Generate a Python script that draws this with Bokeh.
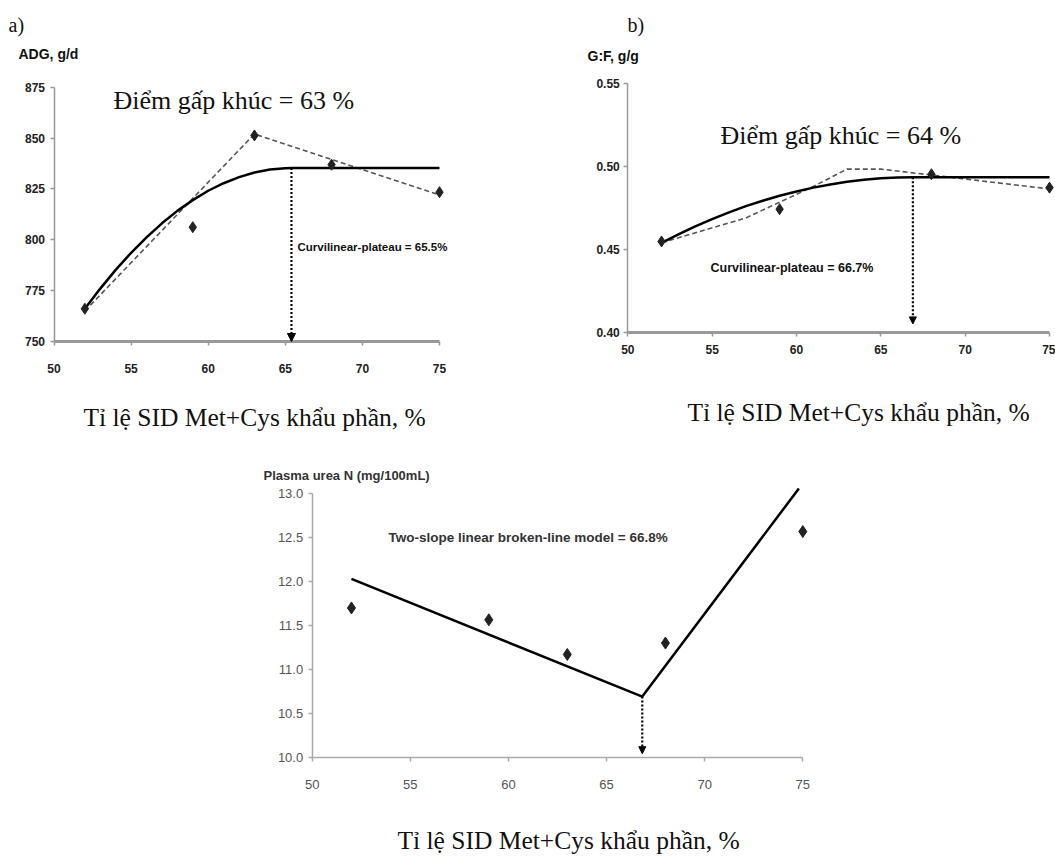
from bokeh.plotting import figure
from bokeh.layouts import column, row
from bokeh.models import (Range1d, Label, Arrow, NormalHead, FixedTicker,
                          NumeralTickFormatter)
from bokeh.embed import file_html
from bokeh.resources import INLINE

# ---------------- data ----------------
x_ticks = [50, 55, 60, 65, 70, 75]
a_y_ticks = [750, 775, 800, 825, 850, 875]
b_y_ticks = [0.40, 0.45, 0.50, 0.55]
c_y_ticks = [10.0, 10.5, 11.0, 11.5, 12.0, 12.5, 13.0]

# panel a : ADG, g/d
a_obs_x = [52, 59, 63, 68, 75]
a_obs_y = [766.1, 806.2, 851.3, 836.9, 823.4]
a_curve_x = [52, 53, 54, 55, 56, 57, 58, 59, 60, 61, 62, 63, 64, 65, 65.4, 75]
a_curve_y = [766.1, 776.0, 785.2, 793.6, 801.2, 808.1, 814.2, 819.5, 824.1,
             827.8, 830.8, 833.1, 834.5, 835.2, 835.3, 835.3]
a_broken_x = [52, 63, 75]
a_broken_y = [765, 852, 822]
a_break = 65.4
a_plateau = 835.3

# panel b : G:F, g/g
b_obs_x = [52, 59, 68, 75]
b_obs_y = [0.4548, 0.4743, 0.4954, 0.4873]
b_curve_x = [52, 53, 54, 55, 56, 57, 58, 59, 60, 61, 62, 63, 64, 65, 66, 66.9, 75]
b_curve_y = [0.4540, 0.4591, 0.4639, 0.4683, 0.4724, 0.4761, 0.4794, 0.4824, 0.4850,
             0.4873, 0.4892, 0.4908, 0.4920, 0.4929, 0.4934, 0.4935, 0.4935]
b_broken_x = [52, 57, 61, 63, 65, 75]
b_broken_y = [0.454, 0.469, 0.488, 0.4985, 0.4985, 0.4865]
b_break = 66.9
b_plateau = 0.4935
b_arrow_end = 0.405

# panel c : plasma urea N
c_obs_x = [52, 59, 63, 68, 75]
c_obs_y = [11.70, 11.565, 11.17, 11.30, 12.57]
c_line_x = [52, 66.82, 74.8]
c_line_y = [12.03, 10.69, 13.06]
c_break = 66.82
c_break_y = 10.69
c_arrow_end = 10.04

SERIF = "Liberation Serif"
SANS = "Liberation Sans"
x_title = "Tỉ lệ SID Met+Cys khẩu phần, %"


def make_fig(box, xpix, ypix, xt, yt):
    """box = page (left, top, right, bottom); xpix/ypix = page pixel of first/last tick."""
    left, top, right, bottom = box
    kx = (xpix[1] - xpix[0]) / (xt[-1] - xt[0])
    ky = (ypix[0] - ypix[1]) / (yt[-1] - yt[0])

    def gx(px):
        return xt[0] + (px - xpix[0]) / kx

    def gy(py):
        return yt[0] + (ypix[0] - py) / ky

    p = figure(width=right - left, height=bottom - top,
               x_range=Range1d(gx(left), gx(right)),
               y_range=Range1d(gy(bottom), gy(top)),
               output_backend="svg", toolbar_location=None, title=None,
               min_border=0, min_border_left=0, min_border_right=0,
               min_border_top=0, min_border_bottom=0)
    p.xgrid.visible = False
    p.ygrid.visible = False
    p.outline_line_color = None
    p.background_fill_color = "white"
    p.border_fill_color = "white"
    return p, gx, gy


def style_axes(p, yt, fmt, font, fstyle, fsize, fcolor, x_w, y_w, acolor,
               x_stand, y_stand):
    xa = p.xaxis[0]
    ya = p.yaxis[0]
    xa.fixed_location = yt[0]
    ya.fixed_location = x_ticks[0]
    xa.ticker = FixedTicker(ticks=x_ticks)
    xa.bounds = (x_ticks[0], x_ticks[-1])
    ya.ticker = FixedTicker(ticks=yt)
    ya.bounds = (yt[0], yt[-1])
    if fmt:
        ya.formatter = NumeralTickFormatter(format=fmt)
    for ax in (xa, ya):
        ax.minor_tick_line_color = None
        ax.major_tick_in = 0
        ax.major_tick_out = 4
        ax.major_tick_line_color = acolor
        ax.major_tick_line_width = 1.5
        ax.axis_line_color = acolor
        ax.major_label_text_font = font
        ax.major_label_text_font_style = fstyle
        ax.major_label_text_font_size = fsize
        ax.major_label_text_color = fcolor
    xa.axis_line_width = x_w
    ya.axis_line_width = y_w
    xa.major_label_standoff = x_stand
    ya.major_label_standoff = y_stand


def add_text(p, x, y, text, font, size, style="normal", align="left", color="#111111"):
    p.add_layout(Label(x=x, y=y, text=text, text_font=font, text_font_size=size,
                       text_font_style=style, text_baseline="middle",
                       text_align=align, text_color=color))


def add_arrow(p, x, y0, y1, size):
    p.add_layout(Arrow(end=NormalHead(size=size, fill_color="black", line_color="black"),
                       x_start=x, y_start=y0, x_end=x, y_end=y1,
                       line_dash="2 2", line_width=2.2, line_color="black"))


# ---------------- panel a ----------------
pa, gxa, gya = make_fig((0, 0, 540, 440), (53.5, 439), (341, 86.7), x_ticks, a_y_ticks)
style_axes(pa, a_y_ticks, None, SANS, "bold", "12px", "#222222", 3, 1.5, "#999999", 18, 5)
pa.line(a_broken_x, a_broken_y, line_color="#555555", line_width=1.6, line_dash="5 3")
pa.line(a_curve_x, a_curve_y, line_color="black", line_width=2.5, line_join="round")
pa.scatter(a_obs_x, a_obs_y, marker="diamond", size=11, color="#222222")
add_arrow(pa, a_break, a_plateau, a_y_ticks[0], 8)
add_text(pa, gxa(8), gya(24), "a)", SERIF, "20px")
add_text(pa, gxa(18), gya(53), "ADG, g/d", SANS, "14px", "bold")
add_text(pa, gxa(113), gya(99.5), "Điểm gấp khúc = 63 %", SERIF, "26px")
add_text(pa, gxa(297), gya(246), "Curvilinear-plateau = 65.5%", SANS, "11.5px", "bold")
add_text(pa, gxa(83), gya(416.5), x_title, SERIF, "25.5px")

# ---------------- panel b ----------------
pb, gxb, gyb = make_fig((540, 0, 1055, 440), (627.3, 1049), (331.7, 83.3), x_ticks, b_y_ticks)
style_axes(pb, b_y_ticks, "0.00", SANS, "bold", "12px", "#222222", 3, 1.5, "#999999", 9, 4)
pb.line(b_broken_x, b_broken_y, line_color="#555555", line_width=1.6, line_dash="5 3")
pb.line(b_curve_x, b_curve_y, line_color="black", line_width=2.5, line_join="round")
pb.scatter(b_obs_x, b_obs_y, marker="diamond", size=11, color="#222222")
add_arrow(pb, b_break, b_plateau, b_arrow_end, 7)
add_text(pb, gxb(627), gyb(24), "b)", SERIF, "20px")
add_text(pb, gxb(587), gyb(55), "G:F, g/g", SANS, "14px", "bold")
add_text(pb, gxb(720), gyb(135), "Điểm gấp khúc = 64 %", SERIF, "26px")
add_text(pb, gxb(710), gyb(267), "Curvilinear-plateau = 66.7%", SANS, "12.5px", "bold")
add_text(pb, gxb(687), gyb(411.5), x_title, SERIF, "25.5px")

# ---------------- panel c ----------------
pc, gxc, gyc = make_fig((0, 440, 1055, 855), (311.7, 802.3), (756.7, 493.3), x_ticks, c_y_ticks)
style_axes(pc, c_y_ticks, "0.0", SANS, "normal", "13px", "#555555", 1.5, 1.5, "#aaaaaa", 19, 5)
pc.line(c_line_x, c_line_y, line_color="black", line_width=2.5, line_join="round")
pc.scatter(c_obs_x, c_obs_y, marker="diamond", size=12, color="#222222")
add_arrow(pc, c_break, c_break_y, c_arrow_end, 7)
add_text(pc, gxc(263), gyc(475), "Plasma urea N (mg/100mL)", SANS, "13px", "bold",
         color="#333333")
add_text(pc, gxc(388), gyc(537), "Two-slope linear broken-line model = 66.8%", SANS, "13.5px",
         "bold", color="#333333")
add_text(pc, gxc(397), gyc(840), x_title, SERIF, "25.5px")

layout = column(row(pa, pb), pc)
open("out.html", "w").write(file_html(layout, INLINE))
